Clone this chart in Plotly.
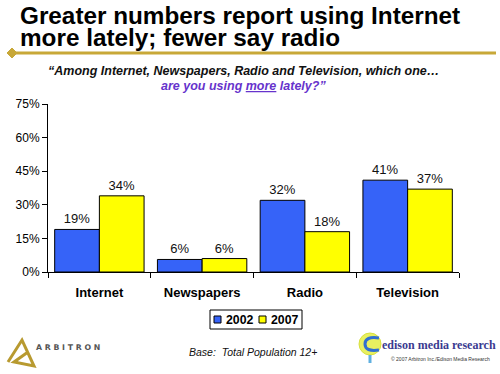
import plotly.graph_objects as go

categories = ["Internet", "Newspapers", "Radio", "Television"]
values_2002 = [19, 5.6, 32, 41]
values_2007 = [34, 6, 18, 37]
series_names = ["2002", "2007"]
y_ticks = [0, 15, 30, 45, 60, 75]
y_tick_labels = ["0%", "15%", "30%", "45%", "60%", "75%"]

W, H = 500, 374
X0, X1 = 48, 459     # plot area left/right in px
Y0, Y1 = 104, 272    # plot area top/bottom in px

def px(x):
    return x / W

def py(y):
    return 1 - y / H

FONT = "Liberation Sans, Arial, sans-serif"
BLUE = "#3663f8"
YELLOW = "#ffff00"
GOLD = "#c8a838"
PURPLE = "#6633cc"
colors = [BLUE, YELLOW]

fig = go.Figure()
for name, vals, col in zip(series_names, [values_2002, values_2007], colors):
    fig.add_trace(go.Bar(
        x=categories, y=vals, name=name,
        marker=dict(color=col, line=dict(color="#000000", width=1)),
        text=vals, texttemplate="%{y:.0f}%", textposition="outside",
        textfont=dict(family=FONT, size=13, color="#111111"),
        cliponaxis=False, showlegend=False, hoverinfo="skip",
    ))

shapes = [
    dict(type="line", xref="paper", yref="paper", x0=px(12), x1=px(496), y0=py(53), y1=py(53),
         line=dict(color=GOLD, width=3)),
    dict(type="path", xref="paper", yref="paper",
         path=f"M {px(7)} {py(53)} L {px(12)} {py(48)} L {px(17)} {py(53)} L {px(12)} {py(58)} Z",
         fillcolor=GOLD, line=dict(color=GOLD, width=1)),
    # Arbitron logo
    dict(type="path", xref="paper", yref="paper",
         path=f"M {px(8)} {py(362)} L {px(22)} {py(340)} L {px(34)} {py(366)} L {px(14)} {py(362)} L {px(28)} {py(352)}",
         line=dict(color="#b89a30", width=3)),
    # Edison bulb
    dict(type="circle", xref="paper", yref="paper",
         x0=px(359), x1=px(381), y0=py(333), y1=py(355),
         fillcolor="#e8f060", line=dict(color="#d8e040", width=1)),
    dict(type="path", xref="paper", yref="paper",
         path=f"M {px(379)} {py(338)} Q {px(365)} {py(336)} {px(365)} {py(344)} Q {px(365)} {py(352)} {px(379)} {py(350)}",
         line=dict(color="#3070d0", width=3)),
    dict(type="line", xref="paper", yref="paper", x0=px(370), x1=px(370), y0=py(355), y1=py(363),
         line=dict(color="#60b0e0", width=3)),
    # legend box
    dict(type="rect", xref="paper", yref="paper", x0=px(210), x1=px(302), y0=py(310), y1=py(329),
         line=dict(color="#000000", width=1), fillcolor="white"),
]

annotations = [
    dict(text="<b>Greater numbers report using Internet</b>",
         xref="paper", yref="paper", x=px(18), y=py(16), xanchor="left", yanchor="middle",
         showarrow=False, align="left", font=dict(family=FONT, size=24.3, color="#000000")),
    dict(text="<b>more lately; fewer say radio</b>",
         xref="paper", yref="paper", x=px(18), y=py(37.5), xanchor="left", yanchor="middle",
         showarrow=False, align="left", font=dict(family=FONT, size=24.3, color="#000000")),
    dict(text="<b><i>“Among Internet, Newspapers, Radio and Television, which one…</i></b>",
         xref="paper", yref="paper", x=px(243), y=py(71), xanchor="center", yanchor="middle",
         showarrow=False, font=dict(family=FONT, size=12.5, color="#111111")),
    dict(text="<b><i>are you using <u>more</u> lately?”</i></b>",
         xref="paper", yref="paper", x=px(243), y=py(85.5), xanchor="center", yanchor="middle",
         showarrow=False, font=dict(family=FONT, size=12.5, color=PURPLE)),
    dict(text="<i>Base:  Total Population 12+</i>",
         xref="paper", yref="paper", x=px(253), y=py(352), xanchor="center", yanchor="middle",
         showarrow=False, font=dict(family=FONT, size=10.5, color="#111111")),
    dict(text="<b>A R B I T R O N</b>",
         xref="paper", yref="paper", x=px(34), y=py(347), xanchor="left", yanchor="middle",
         showarrow=False, font=dict(family="DejaVu Sans, sans-serif", size=7.8, color="#555555")),
    dict(text="<b>edison media research</b>",
         xref="paper", yref="paper", x=px(380), y=py(345), xanchor="left", yanchor="middle",
         showarrow=False, font=dict(family="Liberation Serif, serif", size=12, color="#3a3a90")),
    dict(text="© 2007 Arbitron Inc./Edison Media Research",
         xref="paper", yref="paper", x=px(492), y=py(359), xanchor="right", yanchor="middle",
         showarrow=False, font=dict(family=FONT, size=5, color="#333333")),
]

# compact legend: swatch + label for each series
leg_x = [214, 259]
for name, col, lx in zip(series_names, colors, leg_x):
    shapes.append(dict(type="rect", xref="paper", yref="paper",
                       x0=px(lx), x1=px(lx + 7), y0=py(323), y1=py(316),
                       fillcolor=col, line=dict(color="#000000", width=1)))
    annotations.append(dict(text=f"<b>{name}</b>", xref="paper", yref="paper",
                            x=px(lx + 10), y=py(319.5), xanchor="left", yanchor="middle",
                            showarrow=False, font=dict(family=FONT, size=12.3, color="#000000")))

fig.update_layout(
    width=W, height=H,
    margin=dict(l=0, r=0, t=0, b=0, pad=0, autoexpand=False),
    paper_bgcolor="white", plot_bgcolor="white",
    barmode="group", bargap=0.13, bargroupgap=0,
    showlegend=False,
    xaxis=dict(domain=[px(X0), px(X1)], automargin=False, showline=True, linecolor="#000000",
               linewidth=1, ticks="outside", tickson="boundaries",
               ticklen=5, tickcolor="#000000", showgrid=False, ticklabelstandoff=8,
               tickfont=dict(family=FONT, size=13, color="#000000"),
               tickprefix="<b>", ticksuffix="</b>"),
    yaxis=dict(domain=[py(Y1), py(Y0)], automargin=False, range=[0, 75], tickvals=y_ticks,
               ticktext=y_tick_labels, showline=True, linecolor="#000000", linewidth=1,
               ticks="outside", ticklen=5, tickcolor="#000000", showgrid=False, zeroline=False,
               tickfont=dict(family=FONT, size=12, color="#000000")),
    shapes=shapes,
    annotations=annotations,
)

fig.write_html("out.html", config={"displayModeBar": False},
               post_script="document.body.style.margin='0';document.body.style.padding='0';")
